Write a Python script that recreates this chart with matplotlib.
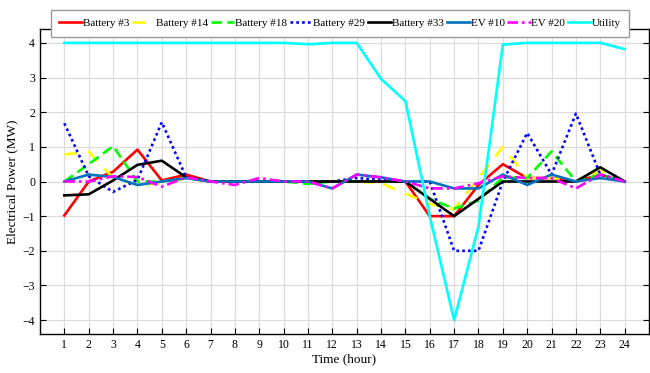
import matplotlib
matplotlib.use("Agg")
import matplotlib.pyplot as plt

hours = list(range(1, 25))
battery3 = [-0.98, 0, 0.28, 0.92, 0.03, 0.2, 0, 0, 0, 0, 0, 0, 0, 0, 0, -1.0, -1.0, -0.1, 0.5, 0.1, 0.1, 0, 0.2, 0]
battery14 = [0.78, 0.86, 0.1, -0.1, -0.05, 0.1, 0, 0, 0, 0, 0, 0, 0, -0.05, -0.35, -0.65, -0.8, 0.1, 1.0, 0.1, 0.1, 0, 0.3, 0]
battery18 = [0, 0.5, 1.02, 0, 0, 0.1, 0, 0, 0, 0, -0.07, 0, 0, 0, 0, -0.5, -0.78, -0.55, 0.12, 0.1, 0.87, 0, 0.2, 0]
battery29 = [1.68, 0.15, -0.3, 0.05, 1.71, 0.12, 0, 0, 0, 0, 0, 0, 0.1, 0.05, 0, 0, -2.0, -2.0, 0, 1.4, 0.2, 1.96, 0.2, 0]
battery33 = [-0.4, -0.37, 0.03, 0.48, 0.6, 0.12, 0, 0, 0, 0, 0, 0, 0, 0, 0, -0.5, -1.0, -0.5, 0, 0, 0, 0, 0.41, 0]
ev10 = [0, 0.2, 0.13, -0.1, 0, 0.1, 0, 0, 0, 0, 0, -0.2, 0.2, 0.12, 0, 0, -0.2, -0.2, 0.2, -0.1, 0.2, 0, 0.1, 0]
ev20 = [0, 0, 0.15, 0.13, -0.15, 0.12, 0, -0.1, 0.1, 0, 0, -0.2, 0.2, 0.12, 0, -0.2, -0.2, -0.05, 0.15, 0.1, 0.1, -0.2, 0.2, 0]
utility = [4, 4, 4, 4, 4, 4, 4, 4, 4, 4, 3.96, 4, 4, 2.96, 2.32, -1.0, -4.0, -1.3, 3.95, 4, 4, 4, 4, 3.82]

series = [
    ("Battery #3", battery3, "#FF0000", "-"),
    ("Battery #14", battery14, "#FFFF00", (0, (5, 4))),
    ("Battery #18", battery18, "#00FF00", (0, (4, 2))),
    ("Battery #29", battery29, "#0000FF", (0, (1, 1.2))),
    ("Battery #33", battery33, "#000000", "-"),
    ("EV #10", ev10, "#0072BD", "-"),
    ("EV #20", ev20, "#FF00FF", (0, (4, 1.5, 1, 1.5))),
    ("Utility", utility, "#00FFFF", "-"),
]

plt.rcParams['font.family'] = ['Liberation Serif', 'DejaVu Serif']
fig = plt.figure(figsize=(6.5, 3.73), dpi=100)
ax = fig.add_axes([40/650, 39/373, 609/650, 305/373])

for name, vals, col, ls in series:
    ax.plot(hours, vals, color=col, linestyle=ls, linewidth=1.9, label=name)

ax.set_xlim(0, 25)
ax.set_ylim(-4.4, 4.4)
ax.set_xticks(hours)
ax.set_yticks(range(-4, 5))
ax.grid(True, color='#dcdcdc', linewidth=0.9)
ax.set_axisbelow(True)
ax.tick_params(direction='in', length=4, width=0.8, top=True, right=True, labelsize=8.5, colors='black')
for s in ax.spines.values():
    s.set_linewidth(1.0)
ax.set_xlabel("Time (hour)", fontsize=9.5, labelpad=2)
ax.set_ylabel("Electrical Power (MW)", fontsize=9.5, labelpad=3)

leg = ax.legend(loc='upper center', bbox_to_anchor=(0.4926, 1.062), ncol=8, fontsize=8,
                frameon=True, fancybox=False, edgecolor='#999999', framealpha=1,
                handlelength=2.1, handletextpad=0.05, columnspacing=0.25, borderpad=0.75,
                borderaxespad=0)
leg.get_frame().set_linewidth(1.0)

fig.savefig("out.png", dpi=100)
